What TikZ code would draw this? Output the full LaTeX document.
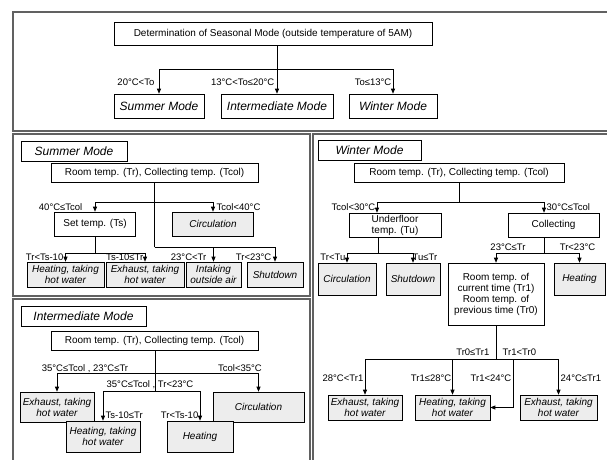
\documentclass[tikz,border=0pt]{standalone}
\usepackage{fontspec}
\setmainfont{Liberation Sans}
\usetikzlibrary{arrows.meta}
\begin{document}
\begin{tikzpicture}[x=1pt,y=-1pt,
  frame/.style={draw=black!62,line width=1.4pt},
  box/.style={draw,line width=0.6pt,inner sep=1pt,align=center,font=\fontsize{10}{11}\selectfont},
  act/.style={box,fill=black!7,font=\fontsize{10}{11}\selectfont\itshape},
  mode/.style={box,font=\fontsize{12}{14}\selectfont\itshape},
  lbl/.style={inner sep=0.5pt,font=\fontsize{9.5}{10}\selectfont},
  con/.style={line width=0.7pt},
  arr/.style={con,-{Triangle[length=5pt,width=4pt]}}]
\clip (0,0) rectangle (607,459);
\fill[white] (0,0) rectangle (607,459);
\draw[frame] (13,12) rectangle (615,131);
\draw[frame] (13,134) rectangle (310,296);
\draw[frame] (13,299) rectangle (310,470);
\draw[frame] (313,134) rectangle (615,470);
% seasonal mode
\node[box,minimum width=318pt,minimum height=23pt] (det) at (273,33.5) {Determination of Seasonal Mode (outside temperature of 5AM)};
\node[mode,minimum width=90pt,minimum height=24pt] (tsum) at (159,106) {Summer Mode};
\node[mode,minimum width=112pt,minimum height=24pt] (tint) at (277,106) {Intermediate Mode};
\node[mode,minimum width=88pt,minimum height=24pt] (twin) at (393,106) {Winter Mode};
\coordinate (jtop) at (277,69);
\draw[con] (jtop |- det.south) -- (jtop);
\draw[arr] (jtop) -| (tsum.north);
\draw[arr] (jtop) -- (tint.north);
\draw[arr] (jtop) -| (twin.north);
\node[lbl,anchor=east] (l1) at (155,82) {20°C<To};
\node[lbl,anchor=east] (l2) at (275,82) {13°C<To≤20°C};
\node[lbl,anchor=east] (l3) at (392,82) {To≤13°C};
% summer
\node[mode,minimum width=106pt,minimum height=20pt] (smode) at (74,151.5) {Summer Mode};
\node[box,minimum width=207pt,minimum height=19pt] (sroom) at (154.5,172.5) {Room temp. (Tr), Collecting temp. (Tcol)};
\node[box,minimum width=81pt,minimum height=24pt] (sset) at (95,224) {Set temp. (Ts)};
\node[act,minimum width=81pt,minimum height=24pt] (scirc) at (213,224) {Circulation};
\node[act,minimum width=77pt,minimum height=25pt] (sheat) at (65.5,274.5) {Heating, taking\\hot water};
\node[act,minimum width=78pt,minimum height=25pt] (sexh) at (145,274.5) {Exhaust, taking\\hot water};
\node[act,minimum width=55pt,minimum height=25pt] (sint) at (213.5,274.5) {Intaking\\outside air};
\node[act,minimum width=56pt,minimum height=25pt] (sshut) at (275,274.5) {Shutdown};
\coordinate (js1) at (154.5,202);
\coordinate (js2) at (95,253);
\coordinate (js3) at (154.5,247);
\draw[con] (sroom.south) -- (js3);
\draw[arr] (js1) -| (sset.north);
\draw[arr] (js1) -| (scirc.north);
\draw[con] (sset.south) -- (js2);
\draw[arr] (js2) -| (sheat.north);
\draw[arr] (js2) -| (sexh.north);
\draw[arr] (js3) -| (sint.north);
\draw[arr] (js3) -| (sshut.north);
\node[lbl,anchor=east] (l4) at (83,207) {40°C≤Tcol};
\node[lbl,anchor=west] (l5) at (216,207) {Tcol<40°C};
\node[lbl,anchor=east] (l6) at (64,257) {Tr<Ts-10};
\node[lbl,anchor=east] (l7) at (144,257) {Ts-10≤Tr};
\node[lbl,anchor=east] (l8) at (207,257) {23°C<Tr};
\node[lbl,anchor=east] (l9) at (272,257) {Tr<23°C};
% intermediate
\node[mode,minimum width=125pt,minimum height=20pt] (imode) at (83.5,316.5) {Intermediate Mode};
\node[box,minimum width=207pt,minimum height=19pt] (iroom) at (154.5,341) {Room temp. (Tr), Collecting temp. (Tcol)};
\node[act,minimum width=74pt,minimum height=30pt] (iexh) at (57,407) {Exhaust, taking\\hot water};
\node[act,minimum width=91pt,minimum height=30pt] (icirc) at (258.5,407) {Circulation};
\node[act,minimum width=74pt,minimum height=31pt] (iheat2) at (103,436.5) {Heating, taking\\hot water};
\node[act,minimum width=66pt,minimum height=31pt] (iheat) at (200,436.5) {Heating};
\coordinate (ji1) at (155,373);
\coordinate (ji2) at (155,391);
\draw[con] (iroom.south -| ji1) -- (ji2);
\draw[arr] (ji1) -| (iexh.north);
\draw[arr] (ji1) -| (icirc.north);
\draw[arr] (ji2) -| (iheat2.north);
\draw[arr] (ji2) -| (iheat.north);
\node[lbl] (l10) at (85,368.5) {35°C≤Tcol , 23°C≤Tr};
\node[lbl] (l11) at (240,368.5) {Tcol<35°C};
\node[lbl] (l12) at (150,385) {35°C≤Tcol , Tr<23°C};
\node[lbl,anchor=west] (l13) at (105,415) {Ts-10≤Tr};
\node[lbl,anchor=east] (l14) at (199,415) {Tr<Ts-10};
% winter
\node[mode,minimum width=103pt,minimum height=20pt] (wmode) at (369.5,150) {Winter Mode};
\node[box,minimum width=210pt,minimum height=19pt] (wroom) at (459,172.5) {Room temp. (Tr), Collecting temp. (Tcol)};
\node[box,minimum width=92pt,minimum height=24pt] (wunder) at (395,225) {Underfloor\\temp. (Tu)};
\node[box,minimum width=91pt,minimum height=24pt] (wcoll) at (553.5,225) {Collecting};
\node[act,minimum width=58pt,minimum height=32pt] (wcirc) at (347,279) {Circulation};
\node[act,minimum width=54pt,minimum height=32pt] (wshut) at (413,279) {Shutdown};
\node[box,minimum width=96pt,minimum height=62pt] (wroom2) at (496,294) {Room temp. of\\current time (Tr1)\\Room temp. of\\previous time (Tr0)};
\node[act,minimum width=51pt,minimum height=32pt] (wheat) at (579.5,279) {Heating};
\node[act,minimum width=74pt,minimum height=25pt] (wexh1) at (365,407.5) {Exhaust, taking\\hot water};
\node[act,minimum width=75pt,minimum height=25pt] (wheat2) at (452.5,407.5) {Heating, taking\\hot water};
\node[act,minimum width=77pt,minimum height=25pt] (wexh2) at (558.5,407.5) {Exhaust, taking\\hot water};
\coordinate (jw1) at (459,202);
\coordinate (jw2) at (378,253);
\coordinate (jw3) at (544,253);
\coordinate (jw4) at (496,359);
\coordinate (jw5) at (513,359);
\draw[con] (wroom.south) -- (jw1);
\draw[arr] (jw1) -| ([xshift=-18pt]wunder.north);
\draw[arr] (jw1) -| ([xshift=-9.5pt]wcoll.north);
\draw[con] ([xshift=-17pt]wunder.south) -- (jw2);
\draw[arr] (jw2) -| (wcirc.north);
\draw[arr] (jw2) -| (wshut.north);
\draw[con] ([xshift=-9.5pt]wcoll.south) -- (jw3);
\draw[arr] (jw3) -| (wroom2.north);
\draw[arr] (jw3) -| (wheat.north);
\draw[con] (wroom2.south) -- (jw4);
\draw[arr] (jw4) -| (wexh1.north);
\draw[arr] (jw4) -| (wheat2.north);
\draw[arr] (jw4) -| (wexh2.north);
\draw[arr] (jw5) |- (wheat2.east);
\node[lbl,anchor=east] (l15) at (376,207) {Tcol<30°C};
\node[lbl,anchor=west] (l16) at (546,207) {30°C≤Tcol};
\node[lbl,anchor=east] (l17) at (346,257) {Tr<Tu};
\node[lbl,anchor=west] (l18) at (412,257) {Tu≤Tr};
\node[lbl] (l19) at (508,247) {23°C≤Tr};
\node[lbl] (l20) at (577.5,247) {Tr<23°C};
\node[lbl,anchor=east] (l21) at (490,352) {Tr0≤Tr1};
\node[lbl,anchor=west] (l22) at (502,352) {Tr1<Tr0};
\node[lbl,anchor=east] (l23) at (364,378) {28°C<Tr1};
\node[lbl,anchor=east] (l24) at (452,378) {Tr1≤28°C};
\node[lbl,anchor=east] (l25) at (512,378) {Tr1<24°C};
\node[lbl,anchor=west] (l26) at (560,378) {24°C≤Tr1};
\end{tikzpicture}
\end{document}
